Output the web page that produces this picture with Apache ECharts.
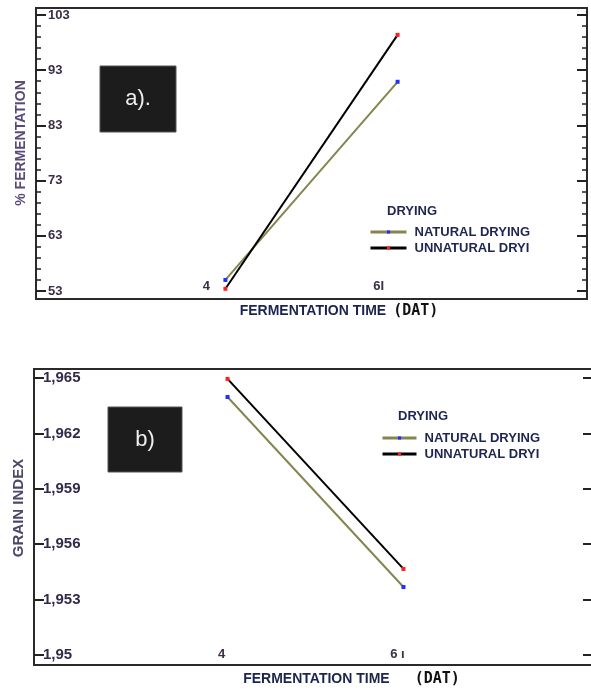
<!DOCTYPE html>
<html><head><meta charset="utf-8">
<script src="https://cdn.jsdelivr.net/npm/echarts@6/dist/echarts.min.js"></script>
<style>html,body{margin:0;padding:0;background:#fff}#c{width:591px;height:689px}</style>
</head><body><div id="c"></div>
<script>
// ---- data ----
const fermentationDays = [4, 6];
const xTickLabelsA = ['4', '6I'];
const xTickLabelsB = ['4', '6 ı'];
const seriesNames = ['NATURAL DRYING', 'UNNATURAL DRYI'];
const fermNatural = [55.0, 90.9];
const fermUnnatural = [53.4, 99.4];
const grainNatural = [1.96397, 1.95368];
const grainUnnatural = [1.96495, 1.95466];
const yAxisA = [53, 103, 10];        // min, max, interval
const yAxisB = [1.95, 1.965, 0.003]; // min, max, interval
const xAxisRange = [1.8, 8.2, 0.2];

const FONT = "'Liberation Sans', Arial, sans-serif";
const pairs = (xs, ys) => xs.map((x, i) => [x, ys[i]]);
const xLabelFmt = labels => v => {
  const i = fermentationDays.findIndex(d => Math.abs(d - v) < 1e-6);
  return i >= 0 ? labels[i] : '';
};
const commaFmt = v => v.toFixed(3).replace(/0+$/, '').replace('.', ',');

const tickStyle = {color: '#222', width: 2};
const minorStyle = {color: '#222', width: 1.5};

function hiddenAxis(gi) { return {gridIndex: gi, type: 'value', show: false}; }

const xName = (gap, pad, spacer) => ({
  name: '{t|FERMENTATION TIME}{s|}{d|(DAT)}',
  nameLocation: 'middle', nameGap: gap,
  nameTextStyle: {
    padding: [0, 0, 0, pad],
    rich: {
      t: {fontSize: 14, fontWeight: 'bold', color: '#1b2450', fontFamily: FONT},
      s: {width: spacer},
      d: {fontSize: 15, fontWeight: 'bold', color: '#111', fontFamily: "'DejaVu Sans Mono', monospace"}
    }
  }
});

const chart = echarts.init(document.getElementById('c'), null, {renderer: 'canvas'});
chart.setOption({
  animation: false,
  backgroundColor: '#fff',
  textStyle: {fontFamily: FONT},
  grid: [
    {left: 36, top: 8, width: 551, height: 291, show: true, borderColor: '#2a2a2a', borderWidth: 2, backgroundColor: 'transparent', outerBoundsMode: 'none'},
    {left: 36, top: 15, width: 551, height: 276, outerBoundsMode: 'none'},
    {left: 34, top: 369, width: 563, height: 296, show: true, borderColor: '#2a2a2a', borderWidth: 2, backgroundColor: 'transparent', outerBoundsMode: 'none'},
    {left: 34, top: 378, width: 563, height: 277, outerBoundsMode: 'none'}
  ],
  title: [
    {text: 'DRYING', left: 387, top: 205, padding: 0, textStyle: {fontSize: 13, fontWeight: 'bold', color: '#1e2550', fontFamily: FONT}},
    {text: 'DRYING', left: 398, top: 410, padding: 0, textStyle: {fontSize: 13, fontWeight: 'bold', color: '#1e2550', fontFamily: FONT}}
  ],
  legend: [
    {left: 369, top: 225.5, orient: 'vertical', itemWidth: 36, itemHeight: 4, itemGap: 3, padding: 0,
     selectedMode: false, data: seriesNames, lineStyle: {width: 3},
     textStyle: {fontSize: 13, fontWeight: 'bold', color: '#1e2550', padding: [0, 0, 0, 3]}},
    {left: 381, top: 431.5, orient: 'vertical', itemWidth: 34, itemHeight: 4, itemGap: 3, padding: 0,
     selectedMode: false, data: seriesNames, lineStyle: {width: 3},
     textStyle: {fontSize: 13, fontWeight: 'bold', color: '#1e2550', padding: [0, 0, 0, 3]}}
  ],
  xAxis: [
    hiddenAxis(0),
    Object.assign({
      gridIndex: 1, type: 'value', min: xAxisRange[0], max: xAxisRange[1], interval: xAxisRange[2],
      axisLine: {show: false}, axisTick: {show: false}, splitLine: {show: false},
      axisLabel: {margin: -11, formatter: xLabelFmt(xTickLabelsA), fontSize: 13, fontWeight: 'bold', color: '#3a2f45', padding: [0, 38, 0, 0]}
    }, xName(13, 55, 7)),
    hiddenAxis(2),
    Object.assign({
      gridIndex: 3, type: 'value', min: xAxisRange[0], max: xAxisRange[1], interval: xAxisRange[2],
      axisLine: {show: false}, axisTick: {show: false}, splitLine: {show: false},
      axisLabel: {margin: -7, formatter: xLabelFmt(xTickLabelsB), fontSize: 13, fontWeight: 'bold', color: '#3a2f45', padding: [0, 12, 0, 0]}
    }, xName(17, 72, 25))
  ],
  yAxis: [
    hiddenAxis(0),
    {gridIndex: 1, type: 'value', position: 'left', min: yAxisA[0], max: yAxisA[1], interval: yAxisA[2],
     axisLine: {show: false}, splitLine: {show: false},
     axisTick: {inside: true, length: 10, lineStyle: tickStyle},
     minorTick: {show: true, splitNumber: 5, length: 5, lineStyle: minorStyle},
     axisLabel: {inside: true, margin: 12, fontSize: 13, fontWeight: 'bold', color: '#3a2f45'},
     name: '% FERMENTATION', nameLocation: 'middle', nameGap: 6, nameRotate: 90,
     nameTextStyle: {fontSize: 14, fontWeight: 'bold', color: '#584b78', padding: [0, 0, 0, 20]}},
    {gridIndex: 1, type: 'value', position: 'right', min: yAxisA[0], max: yAxisA[1], interval: yAxisA[2],
     axisLine: {show: false}, splitLine: {show: false}, axisLabel: {show: false},
     axisTick: {inside: true, length: 10, lineStyle: tickStyle},
     minorTick: {show: true, splitNumber: 5, length: 5, lineStyle: minorStyle}},
    hiddenAxis(2),
    {gridIndex: 3, type: 'value', position: 'left', min: yAxisB[0], max: yAxisB[1], interval: yAxisB[2],
     axisLine: {show: false}, splitLine: {show: false},
     axisTick: {inside: true, length: 10, lineStyle: tickStyle},
     axisLabel: {inside: true, margin: 9, fontSize: 15, fontWeight: 'bold', color: '#332a4a', formatter: commaFmt},
     name: 'GRAIN INDEX', nameLocation: 'middle', nameGap: 5, nameRotate: 90,
     nameTextStyle: {fontSize: 15, fontWeight: 'bold', color: '#4b4868', padding: [0, 0, 0, 17]}},
    {gridIndex: 3, type: 'value', position: 'right', min: yAxisB[0], max: yAxisB[1], interval: yAxisB[2],
     axisLine: {show: false}, splitLine: {show: false}, axisLabel: {show: false},
     axisTick: {inside: true, length: 14, lineStyle: tickStyle}}
  ],
  series: [
    {type: 'line', name: seriesNames[0], xAxisIndex: 1, yAxisIndex: 1, data: pairs(fermentationDays, fermNatural),
     symbol: 'rect', symbolSize: 4, lineStyle: {color: '#85854f', width: 2}, itemStyle: {color: '#2030ff'}},
    {type: 'line', name: seriesNames[1], xAxisIndex: 1, yAxisIndex: 1, data: pairs(fermentationDays, fermUnnatural),
     symbol: 'rect', symbolSize: 4, lineStyle: {color: '#000', width: 2}, itemStyle: {color: '#ff2020'}},
    {type: 'line', name: seriesNames[0], xAxisIndex: 3, yAxisIndex: 4, data: pairs(fermentationDays, grainNatural),
     symbol: 'rect', symbolSize: 4, lineStyle: {color: '#85854f', width: 2}, itemStyle: {color: '#2030ff'}},
    {type: 'line', name: seriesNames[1], xAxisIndex: 3, yAxisIndex: 4, data: pairs(fermentationDays, grainUnnatural),
     symbol: 'rect', symbolSize: 4, lineStyle: {color: '#000', width: 2}, itemStyle: {color: '#ff2020'}}
  ],
  graphic: [
    {type: 'rect', shape: {x: 100, y: 66, width: 76, height: 66}, style: {fill: '#1c1c1c', stroke: '#555', lineWidth: 1},
     textContent: {style: {text: 'a).', fill: '#eeeeee', font: "22px 'Liberation Sans', Arial, sans-serif"}},
     textConfig: {position: 'inside'}},
    {type: 'rect', shape: {x: 108, y: 407, width: 74, height: 65}, style: {fill: '#1c1c1c', stroke: '#555', lineWidth: 1},
     textContent: {style: {text: 'b)', fill: '#eeeeee', font: "22px 'Liberation Sans', Arial, sans-serif"}},
     textConfig: {position: 'inside'}}
  ]
});
</script></body></html>
